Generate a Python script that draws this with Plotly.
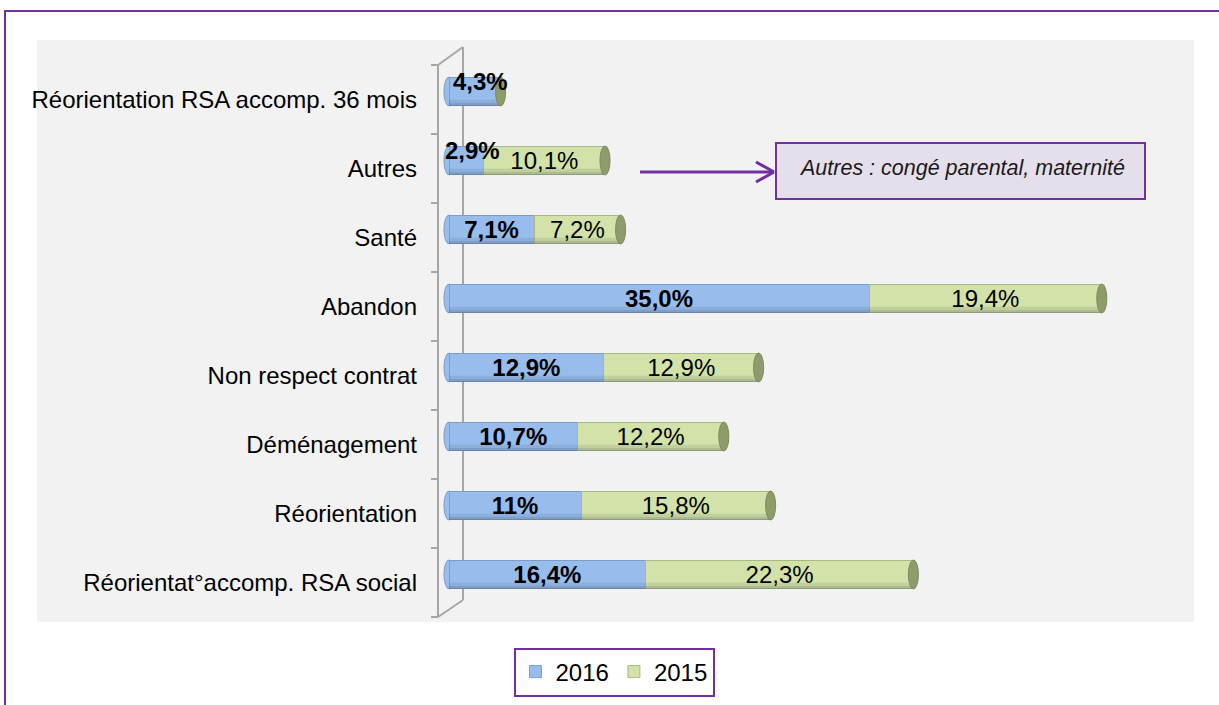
import plotly.graph_objects as go

# ---- data ----
categories = ["Réorientation RSA accomp. 36 mois", "Autres", "Santé", "Abandon",
              "Non respect contrat", "Déménagement", "Réorientation",
              "Réorientat°accomp. RSA social"]
values_2016 = [4.3, 2.9, 7.1, 35.0, 12.9, 10.7, 11.0, 16.4]
values_2015 = [None, 10.1, 7.2, 19.4, 12.9, 12.2, 15.8, 22.3]
labels_2016 = ["4,3%", "2,9%", "7,1%", "35,0%", "12,9%", "10,7%", "11%", "16,4%"]
labels_2015 = ["", "10,1%", "7,2%", "19,4%", "12,9%", "12,2%", "15,8%", "22,3%"]
series_names = ["2016", "2015"]
note_text = "Autres : congé parental, maternité"

# ---- styling ----
FONT = "Liberation Sans, Arial, sans-serif"
FS = 24
BLUE = "#98bdec"
GREEN = "#d2e2a8"
CAP = "#8e9b6b"
PURPLE = "#7030a0"
W, H = 1219, 705
ML, MR, MT, MB = 437, 25, 57, 96
PW, PH = W - ML - MR, H - MT - MB


def xp(px):
    return (px - ML) / PW


def yp(py):
    return (H - MB - py) / PH


BAR_W = 0.42
SMALL = 5.0  # labels of narrower segments sit above/over the bar

inner_2016 = [t if v >= SMALL else "" for v, t in zip(values_2016, labels_2016)]

fig = go.Figure()
fig.add_trace(go.Bar(
    y=categories, x=values_2016, name=series_names[0], orientation="h",
    marker=dict(color=BLUE, line=dict(color="#7d9cc8", width=1)),
    width=BAR_W, text=inner_2016, textposition="inside",
    insidetextanchor="middle",
    textfont=dict(family=FONT, size=FS, color="black", weight="bold"),
    cliponaxis=False,
))
fig.add_trace(go.Bar(
    y=categories, x=values_2015, name=series_names[1], orientation="h",
    marker=dict(color=GREEN, line=dict(color="#a9b984", width=1)),
    width=BAR_W, text=labels_2015, textposition="inside",
    insidetextanchor="middle",
    textfont=dict(family=FONT, size=FS, color="black"),
    cliponaxis=False,
))

shapes = []
# chart area background
shapes.append(dict(type="rect", xref="paper", yref="paper", layer="below",
                   x0=xp(37), x1=xp(1194), y0=yp(622), y1=yp(40),
                   fillcolor="#f2f2f2", line=dict(width=0)))
# outer purple frame
shapes.append(dict(type="rect", xref="paper", yref="paper", layer="below",
                   x0=xp(5), x1=xp(1240), y0=yp(730), y1=yp(11),
                   fillcolor="rgba(0,0,0,0)", line=dict(color=PURPLE, width=2)))
# 3D wall lines
wall = dict(color="#a6a6a6", width=2)
shapes.append(dict(type="line", xref="paper", yref="paper", layer="below",
                   x0=xp(463), x1=xp(463), y0=yp(47), y1=yp(600), line=wall))
shapes.append(dict(type="line", xref="paper", yref="paper", layer="below",
                   x0=xp(438), x1=xp(438), y0=yp(65), y1=yp(617), line=wall))
shapes.append(dict(type="line", xref="paper", yref="paper", layer="below",
                   x0=xp(463), x1=xp(438), y0=yp(47), y1=yp(65), line=wall))
shapes.append(dict(type="line", xref="paper", yref="paper", layer="below",
                   x0=xp(463), x1=xp(438), y0=yp(600), y1=yp(617), line=wall))
n = len(categories)
for k in range(n + 1):
    ty = 65 + k * (617 - 65) / n
    shapes.append(dict(type="line", xref="paper", yref="paper", layer="below",
                       x0=xp(431), x1=xp(438), y0=yp(ty), y1=yp(ty), line=wall))

# cylinder shading and caps derived from the data
for i, (a, b) in enumerate(zip(values_2016, values_2015)):
    total = a + (b or 0)
    shapes.append(dict(type="circle", xref="x", yref="y", layer="below",
                       x0=-0.42, x1=0.42, y0=i - BAR_W / 2, y1=i + BAR_W / 2,
                       fillcolor=BLUE, line=dict(color="#7d9cc8", width=1)))
    # darker lower edge of the cylinder
    shapes.append(dict(type="rect", xref="x", yref="y", layer="above",
                       x0=0, x1=total, y0=i + BAR_W / 2 - 0.09,
                       y1=i + BAR_W / 2 - 0.045,
                       fillcolor="rgba(40,50,70,0.10)", line=dict(width=0)))
    shapes.append(dict(type="rect", xref="x", yref="y", layer="above",
                       x0=0, x1=total, y0=i + BAR_W / 2 - 0.045,
                       y1=i + BAR_W / 2,
                       fillcolor="rgba(40,50,70,0.22)", line=dict(width=0)))
    shapes.append(dict(type="circle", xref="x", yref="y", layer="above",
                       x0=total - 0.42, x1=total + 0.42,
                       y0=i - BAR_W / 2, y1=i + BAR_W / 2,
                       fillcolor=CAP, line=dict(color="#7f8b5e", width=1)))

# note box and arrow
shapes.append(dict(type="rect", xref="paper", yref="paper", layer="above",
                   x0=xp(776), x1=xp(1145), y0=yp(199), y1=yp(143),
                   fillcolor="#e5dfec", line=dict(color=PURPLE, width=2)))
arrow = dict(color=PURPLE, width=3)
shapes.append(dict(type="line", xref="paper", yref="paper",
                   x0=xp(640), x1=xp(774), y0=yp(172), y1=yp(172), line=arrow))
shapes.append(dict(type="line", xref="paper", yref="paper",
                   x0=xp(756), x1=xp(774), y0=yp(162), y1=yp(172), line=arrow))
shapes.append(dict(type="line", xref="paper", yref="paper",
                   x0=xp(756), x1=xp(774), y0=yp(182), y1=yp(172), line=arrow))

annotations = [dict(xref="paper", yref="paper", x=xp(797), y=yp(168),
                    xanchor="left", yanchor="middle", showarrow=False,
                    text=f"<i>{note_text}</i>",
                    font=dict(family=FONT, size=21.5, color="#1a1a1a"))]

# labels of the narrow 2016 segments, drawn over the bar
for i, (v, t) in enumerate(zip(values_2016, labels_2016)):
    if v < SMALL:
        annotations.append(dict(xref="x", yref="y", x=v / 2, y=i,
                                xshift=6, yshift=10, showarrow=False,
                                text=f"<b>{t}</b>",
                                font=dict(family=FONT, size=FS, color="black")))

fig.update_layout(
    width=W, height=H,
    margin=dict(l=ML, r=MR, t=MT, b=MB, autoexpand=False),
    barmode="stack",
    paper_bgcolor="white", plot_bgcolor="rgba(0,0,0,0)",
    font=dict(family=FONT, size=FS, color="black"),
    uniformtext=dict(mode="show", minsize=FS),
    showlegend=True,
    legend=dict(orientation="h", x=xp(614), y=yp(672), xanchor="center",
                yanchor="middle", bordercolor=PURPLE, borderwidth=2,
                bgcolor="white", font=dict(family=FONT, size=FS),
                traceorder="normal", itemwidth=30),
    xaxis=dict(range=[-1, (1194 - 449) / 12.0], visible=False, showgrid=False,
               zeroline=False),
    yaxis=dict(range=[n - 0.5, -0.5], showgrid=False, zeroline=False,
               showline=False, ticks="", ticklabelstandoff=19,
               ticklabelshift=-8,
               tickfont=dict(family=FONT, size=FS, color="black")),
    shapes=shapes,
    annotations=annotations,
)

fig.write_html("out.html", config={"displayModeBar": False},
               post_script="document.body.style.margin='0';")
